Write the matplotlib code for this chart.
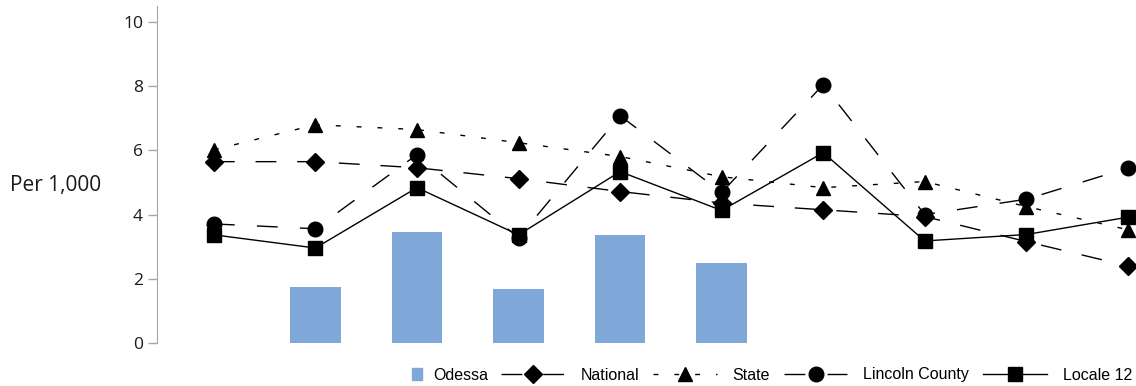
import matplotlib
matplotlib.use('Agg')
import matplotlib.pyplot as plt
from matplotlib.patches import Patch

# ten unlabelled categories, Odessa only has values for the middle five
positions = [0, 1, 2, 3, 4, 5, 6, 7, 8, 9]
odessa_pos = [1, 2, 3, 4, 5]
odessa = [1.74, 3.46, 1.68, 3.37, 2.50]

national = [5.65, 5.65, 5.46, 5.12, 4.72, 4.36, 4.15, 3.94, 3.16, 2.40]
state = [6.02, 6.80, 6.65, 6.24, 5.81, 5.18, 4.84, 5.03, 4.25, 3.53]
lincoln = [3.71, 3.56, 5.87, 3.28, 7.08, 4.69, 8.05, 4.00, 4.48, 5.45]
locale12 = [3.37, 2.96, 4.84, 3.37, 5.34, 4.13, 5.93, 3.18, 3.38, 3.92]

yticks = [0, 2, 4, 6, 8, 10]

BAR_COLOR = '#7FA7D7'
AXIS_GREY = '#A6A6A6'
TEXT = '#1a1a1a'
TICK_FONT = ['Open Sans', 'DejaVu Sans']
LEGEND_FONT = {'family': ['Liberation Sans Narrow', 'Liberation Sans'], 'size': 11.5}

fig = plt.figure(figsize=(11.36, 3.86), dpi=100)
ax = fig.add_axes([157 / 1136, 43 / 386, 979 / 1136, 337 / 386])

ax.bar(odessa_pos, odessa, width=0.5, color=BAR_COLOR, zorder=1)

line_kw = dict(color='black', lw=1.0, clip_on=False, zorder=3)
ax.plot(positions, national, marker='D', ms=9.5, linestyle=(0, (15, 15)),
        label='National', **line_kw)
ax.plot(positions, state, marker='^', ms=10.5, linestyle=(0, (3.5, 11.5)),
        label='State', **line_kw)
ax.plot(positions, lincoln, marker='o', ms=10.5, linestyle=(0, (15, 16)),
        label='Lincoln County', **line_kw)
ax.plot(positions, locale12, marker='s', ms=9.5, linestyle='-',
        label='Locale 12', **line_kw)

ax.set_xlim(-0.56, 9.08)
ax.set_ylim(0, 10.5)
ax.set_yticks(yticks)
ax.set_xticks([])

for side in ('top', 'right', 'bottom'):
    ax.spines[side].set_visible(False)
ax.spines['left'].set_color(AXIS_GREY)
ax.tick_params(axis='y', direction='out', length=6.5, width=1.0,
               color=AXIS_GREY, pad=3.5, labelsize=12.5, labelcolor=TEXT)
for lbl in ax.get_yticklabels():
    lbl.set_family(TICK_FONT)

fig.text(10 / 1136, 1 - 186 / 386, 'Per 1,000', ha='left', va='center',
         fontsize=15, color=TEXT, family=TICK_FONT)

# Odessa gets its own small square key, the lines share a second legend
# (fig.legend registers both, so no add_artist needed)
fig.legend(handles=[Patch(color=BAR_COLOR, label='Odessa')],
           loc='center left', bbox_to_anchor=(412 / 1136, 1 - 375 / 386),
           frameon=False, handlelength=0.65, handleheight=0.75,
           handletextpad=0.7, borderpad=0, borderaxespad=0, prop=LEGEND_FONT)
fig.legend(handles=ax.get_lines(), loc='center right',
           bbox_to_anchor=(1132 / 1136, 1 - 375 / 386),
           ncol=4, frameon=False, handlelength=4.0, handletextpad=1.0,
           columnspacing=0.85, borderpad=0, borderaxespad=0, prop=LEGEND_FONT)

fig.savefig('out.png', dpi=100)
